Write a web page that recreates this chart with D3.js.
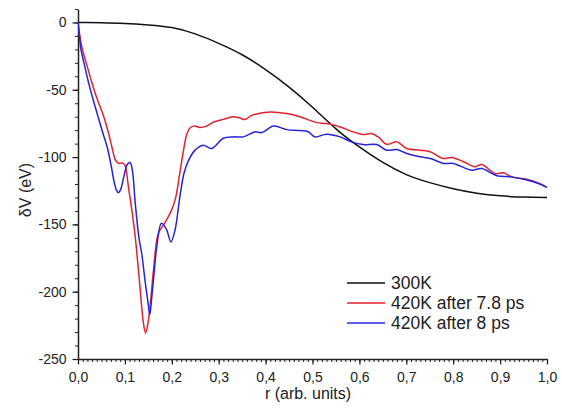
<!DOCTYPE html>
<html>
<head>
<meta charset="utf-8">
<script src="https://cdn.jsdelivr.net/npm/d3@7"></script>
<style>
  html, body { margin: 0; padding: 0; background: #fff; }
  svg { display: block; }
  text { font-family: "Liberation Sans", Arial, sans-serif; fill: #222; }
</style>
</head>
<body>
<svg id="chart" width="562" height="408"></svg>
<script>
// ---- data ----
const seriesNames = ["300K", "420K after 7.8 ps", "420K after 8 ps"];
const seriesColors = ["#111111", "#e3222b", "#2424dc"];

const xTickValues = [0, 0.1, 0.2, 0.3, 0.4, 0.5, 0.6, 0.7, 0.8, 0.9, 1.0];
const xTickLabels = ["0,0", "0,1", "0,2", "0,3", "0,4", "0,5", "0,6", "0,7", "0,8", "0,9", "1,0"];
const yTickValues = [0, -50, -100, -150, -200, -250];
const yTickLabels = ["0", "-50", "-100", "-150", "-200", "-250"];

// 300K : [r, dV]
const black300K = [
  [0, 0], [0.05, -0.2], [0.1, -0.7], [0.15, -1.8], [0.2, -3.8], [0.25, -8.5],
  [0.3, -15.5], [0.35, -24], [0.4, -35], [0.45, -48], [0.5, -63], [0.55, -79],
  [0.6, -92.5], [0.65, -104], [0.7, -113], [0.75, -119], [0.8, -123.5],
  [0.85, -126.8], [0.9, -128.8], [0.95, -129.7], [1.0, -130]
];

// 420K after 7.8 ps
const red78 = [
  [0, 0], [0.004, -10], [0.009, -19.5], [0.02, -33], [0.029, -44], [0.04, -56],
  [0.054, -69], [0.065, -82], [0.073, -93.6], [0.080, -102.3], [0.086, -104.5],
  [0.095, -104.5], [0.100, -106], [0.107, -120.8], [0.115, -140], [0.122, -159],
  [0.132, -196], [0.139, -222], [0.144, -230.8], [0.149, -224], [0.154, -210],
  [0.161, -184], [0.171, -157], [0.182, -150.5], [0.196, -142], [0.207, -132],
  [0.217, -112], [0.225, -95], [0.232, -83], [0.240, -78], [0.249, -77],
  [0.260, -78], [0.274, -77], [0.289, -74], [0.31, -72], [0.331, -70],
  [0.345, -71], [0.356, -72.1], [0.37, -69], [0.381, -68], [0.41, -66.5],
  [0.445, -67.7], [0.473, -70], [0.509, -74.4], [0.53, -75.1], [0.559, -77.6],
  [0.587, -81.3], [0.608, -83.3], [0.626, -82.5], [0.640, -85], [0.658, -90.5],
  [0.680, -88.7], [0.701, -93.6], [0.729, -94.9], [0.751, -96.1], [0.779, -101],
  [0.797, -100.3], [0.822, -103.5], [0.846, -107.2], [0.861, -105.5],
  [0.889, -112.2], [0.907, -111.7], [0.925, -114.7], [0.957, -116.4],
  [0.98, -119], [1.0, -122.5]
];

// 420K after 8 ps
const blue8 = [
  [0, 0], [0.003, -10], [0.006, -19.5], [0.014, -32], [0.022, -44], [0.032, -57],
  [0.042, -69], [0.052, -81], [0.063, -93.6], [0.071, -107], [0.077, -118.4],
  [0.082, -124.5], [0.086, -126.5], [0.091, -124], [0.098, -114], [0.105, -105.5],
  [0.111, -104], [0.116, -110], [0.122, -134], [0.130, -160], [0.136, -172],
  [0.143, -192], [0.150, -210], [0.153, -217.2], [0.157, -205], [0.161, -191],
  [0.168, -166.5], [0.178, -149.2], [0.189, -154], [0.198, -163], [0.207, -154],
  [0.217, -130], [0.226, -112], [0.235, -103], [0.249, -95], [0.267, -91.2],
  [0.285, -93.6], [0.31, -86], [0.331, -85], [0.352, -85], [0.377, -81.3],
  [0.392, -81.8], [0.417, -77], [0.445, -79.6], [0.473, -80.3], [0.490, -81],
  [0.505, -85], [0.530, -83], [0.559, -85], [0.583, -88.7], [0.608, -90.7],
  [0.637, -90.7], [0.658, -94.9], [0.680, -94.4], [0.701, -97.3], [0.729, -99.8],
  [0.751, -101], [0.779, -104.7], [0.800, -104.7], [0.839, -109.7],
  [0.861, -108.5], [0.893, -113.9], [0.921, -114.7], [0.957, -117.1],
  [0.98, -119.5], [1.0, -122.5]
];

const allSeries = [black300K, red78, blue8];

// ---- layout ----
const svg = d3.select("#chart");
const plot = { left: 78, right: 547, top: 9, bottom: 359 };

const x = d3.scaleLinear().domain([0, 1]).range([plot.left, plot.right]);
const y = d3.scaleLinear().domain([-250, 10]).range([plot.bottom, plot.top]);

const axisColor = "#222";

// minor ticks
const xMinor = d3.range(0, 101).map(i => i / 100);
const yMinor = d3.range(-250, 11, 10);

svg.append("g")
  .attr("transform", `translate(0,${plot.bottom})`)
  .call(d3.axisBottom(x).tickValues(xMinor).tickSize(3).tickFormat(""))
  .call(g => g.select(".domain").remove())
  .call(g => g.selectAll("line").attr("stroke", axisColor).attr("stroke-width", 1));

svg.append("g")
  .attr("transform", `translate(${plot.left},0)`)
  .call(d3.axisLeft(y).tickValues(yMinor).tickSize(3).tickFormat(""))
  .call(g => g.select(".domain").remove())
  .call(g => g.selectAll("line").attr("stroke", axisColor).attr("stroke-width", 1));

// major axes
const xAxis = svg.append("g")
  .attr("transform", `translate(0,${plot.bottom})`)
  .call(d3.axisBottom(x).tickValues(xTickValues).tickSizeInner(5.5).tickSizeOuter(0).tickPadding(8)
    .tickFormat((d, i) => xTickLabels[i]));
xAxis.select(".domain").attr("stroke", axisColor).attr("stroke-width", 1.5);
xAxis.selectAll("line").attr("stroke", axisColor).attr("stroke-width", 1.3);
xAxis.selectAll("text").attr("font-size", "14px").attr("fill", "#222")
  .attr("font-family", "'Liberation Sans', Arial, sans-serif");

const yAxis = svg.append("g")
  .attr("transform", `translate(${plot.left},0)`)
  .call(d3.axisLeft(y).tickValues(yTickValues).tickSizeInner(5.5).tickSizeOuter(0).tickPadding(6)
    .tickFormat((d, i) => yTickLabels[i]));
yAxis.select(".domain").attr("stroke", axisColor).attr("stroke-width", 1.5);
yAxis.selectAll("line").attr("stroke", axisColor).attr("stroke-width", 1.3);
yAxis.selectAll("text").attr("font-size", "14px").attr("fill", "#222")
  .attr("font-family", "'Liberation Sans', Arial, sans-serif");

// axis titles
svg.append("text")
  .attr("x", 308).attr("y", 399)
  .attr("text-anchor", "middle")
  .attr("font-size", "16px")
  .text("r (arb. units)");

svg.append("text")
  .attr("transform", "translate(31,190) rotate(-90)")
  .attr("text-anchor", "middle")
  .attr("font-size", "16px")
  .text("δV (eV)");

// lines
const smoothLine = d3.line()
  .x(d => x(d[0]))
  .y(d => y(d[1]))
  .curve(d3.curveNatural);
const wiggleLine = d3.line()
  .x(d => x(d[0]))
  .y(d => y(d[1]))
  .curve(d3.curveCatmullRom.alpha(0.5));

const clipId = "plotclip";
svg.append("clipPath").attr("id", clipId)
  .append("rect").attr("x", plot.left).attr("y", 0)
  .attr("width", plot.right - plot.left + 2).attr("height", plot.bottom);

const linesG = svg.append("g").attr("clip-path", `url(#${clipId})`);
allSeries.forEach((s, i) => {
  linesG.append("path")
    .datum(s)
    .attr("fill", "none")
    .attr("stroke", seriesColors[i])
    .attr("stroke-width", 1.5)
    .attr("stroke-linejoin", "round")
    .attr("d", i === 0 ? smoothLine : wiggleLine);
});

// legend
const legend = svg.append("g");
const legY = [283, 303, 323];
seriesNames.forEach((name, i) => {
  legend.append("line")
    .attr("x1", 347).attr("x2", 385)
    .attr("y1", legY[i]).attr("y2", legY[i])
    .attr("stroke", seriesColors[i]).attr("stroke-width", 1.5);
  legend.append("text")
    .attr("x", 391).attr("y", legY[i])
    .attr("dy", "0.36em")
    .attr("font-size", "17.5px")
    .attr("fill", "#111")
    .text(name);
});
</script>
</body>
</html>
